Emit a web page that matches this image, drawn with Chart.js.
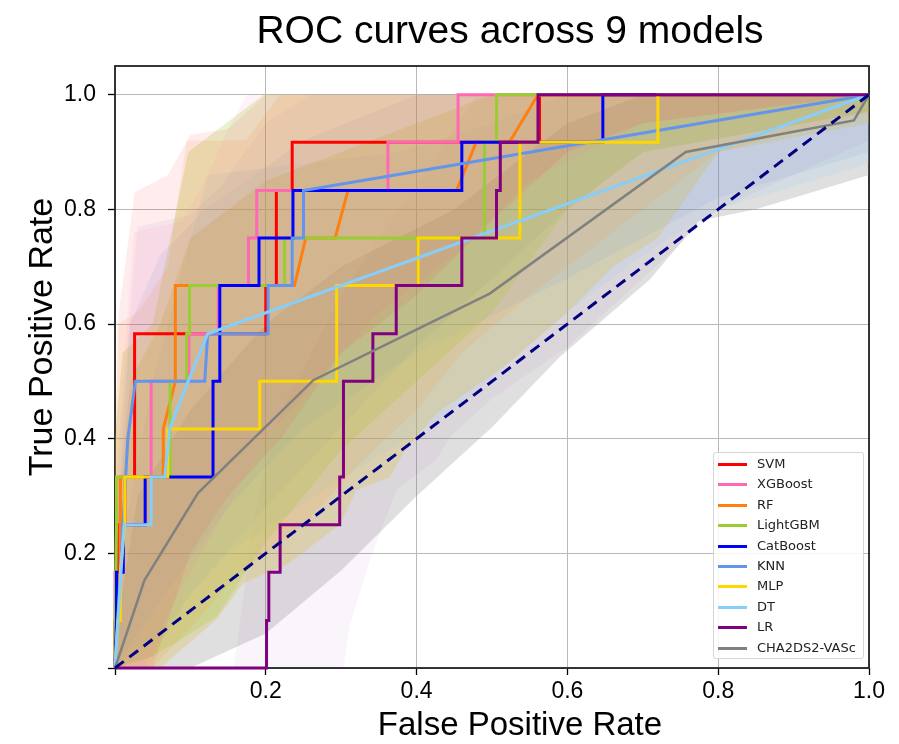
<!DOCTYPE html>
<html><head><meta charset="utf-8">
<script src="https://cdn.jsdelivr.net/npm/chart.js@4.4.0/dist/chart.umd.min.js"></script>
<style>
html,body{margin:0;padding:0;background:#fff;}
#wrap{position:relative;width:899px;height:744px;}
#legend{position:absolute;box-sizing:border-box;border:1px solid #d6d6d6;border-radius:3px;background:rgba(255,255,255,0.85);font-family:"DejaVu Sans",sans-serif;font-size:13px;color:#222;padding:0;}
#legend .row{position:absolute;left:0;height:20px;white-space:nowrap;}
#legend .sw{position:absolute;left:4px;top:9px;width:29px;height:3px;}
#legend .lb{position:absolute;left:43px;top:2px;line-height:16px;}
</style></head>
<body><div id="wrap"><canvas id="c" width="899" height="744"></canvas><div id="legend"></div></div>
<script>
const chartTitle = 'ROC curves across 9 models';
const xTitle = 'False Positive Rate';
const yTitle = 'True Positive Rate';
const xTickValues = [0, 0.2, 0.4, 0.6, 0.8, 1.0];
const xTickLabels = ['', '0.2', '0.4', '0.6', '0.8', '1.0'];
const yTickValues = [0, 0.2, 0.4, 0.6, 0.8, 1.0];
const yTickLabels = ['', '0.2', '0.4', '0.6', '0.8', '1.0'];

const models = ['SVM', 'XGBoost', 'RF', 'LightGBM', 'CatBoost', 'KNN', 'MLP', 'DT', 'LR', 'CHA2DS2-VASc'];
const lineColors = ['#ff0000', '#ff69b4', '#ff7f0e', '#9acd32', '#0000ff', '#6495ed', '#ffd700', '#87cefa', '#800080', '#808080'];
const bandColors = ['rgba(255,0,0,0.07)', 'rgba(255,105,180,0.08)', 'rgba(255,140,40,0.12)', 'rgba(154,205,50,0.24)', 'rgba(60,60,200,0.05)', 'rgba(100,149,237,0.1)', 'rgba(215,185,50,0.26)', 'rgba(135,206,250,0.14)', 'rgba(128,0,128,0.04)', 'rgba(128,128,128,0.25)'];

// ROC curves (FPR, TPR)
const svmFpr = [0, 0, 0.005, 0.005, 0.013, 0.013, 0.026, 0.026, 0.2, 0.2, 0.214, 0.214, 0.235, 0.235, 0.563, 0.563, 1];
const svmTpr = [0, 0.083, 0.083, 0.25, 0.25, 0.333, 0.333, 0.583, 0.583, 0.667, 0.667, 0.833, 0.833, 0.917, 0.917, 1, 1];
const xgbFpr = [0, 0, 0.007, 0.007, 0.048, 0.048, 0.098, 0.098, 0.137, 0.137, 0.177, 0.177, 0.188, 0.188, 0.362, 0.362, 0.455, 0.455, 1];
const xgbTpr = [0, 0.167, 0.167, 0.333, 0.333, 0.5, 0.5, 0.583, 0.583, 0.667, 0.667, 0.75, 0.75, 0.833, 0.833, 0.917, 0.917, 1, 1];
const rfFpr = [0, 0.004, 0.007, 0.007, 0.064, 0.064, 0.08, 0.08, 0.238, 0.253, 0.292, 0.309, 0.453, 0.479, 0.523, 0.561, 1];
const rfTpr = [0, 0.083, 0.167, 0.333, 0.333, 0.417, 0.5, 0.667, 0.667, 0.75, 0.75, 0.833, 0.833, 0.917, 0.917, 1, 1];
const lgbmFpr = [0, 0, 0.002, 0.002, 0.073, 0.073, 0.095, 0.095, 0.099, 0.099, 0.225, 0.225, 0.49, 0.49, 0.506, 0.506, 1];
const lgbmTpr = [0, 0.083, 0.25, 0.333, 0.333, 0.5, 0.5, 0.583, 0.583, 0.667, 0.667, 0.75, 0.75, 0.917, 0.917, 1, 1];
const cbFpr = [0, 0.002, 0.002, 0.011, 0.011, 0.04, 0.04, 0.13, 0.13, 0.139, 0.139, 0.191, 0.191, 0.236, 0.236, 0.46, 0.46, 0.647, 0.647, 1];
const cbTpr = [0, 0.083, 0.167, 0.167, 0.25, 0.25, 0.333, 0.333, 0.5, 0.5, 0.667, 0.667, 0.75, 0.75, 0.833, 0.833, 0.917, 0.917, 1, 1];
const knnFpr = [0, 0.017, 0.027, 0.119, 0.123, 0.203, 0.203, 0.235, 0.235, 0.25, 0.25, 1];
const knnTpr = [0, 0.4, 0.5, 0.5, 0.583, 0.583, 0.667, 0.667, 0.75, 0.75, 0.833, 1];
const mlpFpr = [0, 0.004, 0.007, 0.007, 0.013, 0.013, 0.07, 0.07, 0.192, 0.192, 0.294, 0.294, 0.402, 0.402, 0.537, 0.537, 0.72, 0.72, 1];
const mlpTpr = [0, 0.083, 0.083, 0.167, 0.25, 0.333, 0.333, 0.417, 0.417, 0.5, 0.5, 0.667, 0.667, 0.75, 0.75, 0.917, 0.917, 1, 1];
const dtFpr = [0, 0.012, 0.048, 0.048, 0.066, 0.0725, 0.097, 0.123, 1];
const dtTpr = [0, 0.25, 0.25, 0.333, 0.333, 0.417, 0.5, 0.583, 1];
const lrFpr = [0, 0.201, 0.201, 0.204, 0.204, 0.219, 0.219, 0.298, 0.298, 0.303, 0.303, 0.342, 0.342, 0.373, 0.373, 0.46, 0.46, 0.506, 0.506, 0.511, 0.511, 0.561, 0.561, 1];
const lrTpr = [0, 0, 0.083, 0.083, 0.167, 0.167, 0.25, 0.25, 0.333, 0.333, 0.5, 0.5, 0.583, 0.583, 0.667, 0.667, 0.75, 0.75, 0.833, 0.833, 0.917, 0.917, 1, 1];
const chaFpr = [0, 0.039, 0.11, 0.263, 0.497, 0.757, 0.98, 1];
const chaTpr = [0, 0.153, 0.305, 0.502, 0.653, 0.9, 0.955, 1];
const chanceFpr = [0, 1];
const chanceTpr = [0, 1];

// Confidence bands: upper and lower edges (FPR, TPR)
const svmUpX = [0, 0.005, 0.026, 0.07, 0.1, 0.15, 0.2, 1];
const svmUpY = [0.35, 0.62, 0.83, 0.86, 0.93, 0.94, 1, 1];
const svmLoX = [0, 0.05, 0.1, 0.15, 0.22, 0.3, 0.4, 0.5, 0.6, 0.7, 1];
const svmLoY = [0, 0, 0.2, 0.3, 0.4, 0.55, 0.65, 0.78, 0.9, 0.95, 1];
const xgbUpX = [0, 0.01, 0.025, 0.09, 0.13, 0.15, 0.175, 1];
const xgbUpY = [0.3, 0.5, 0.76, 0.78, 0.88, 0.94, 1, 1];
const xgbLoX = [0, 0.04, 0.08, 0.15, 0.2, 0.28, 0.35, 0.45, 0.55, 0.7, 1];
const xgbLoY = [0, 0, 0.12, 0.28, 0.4, 0.52, 0.62, 0.72, 0.85, 0.95, 1];
const rfUpX = [0, 0.003, 0.03, 0.07, 0.095, 0.174, 0.219, 1];
const rfUpY = [0.35, 0.6, 0.62, 0.7, 0.92, 0.92, 1, 1];
const rfLoX = [0, 0.05, 0.1, 0.16, 0.25, 0.32, 0.4, 0.46, 0.55, 0.65, 0.8, 1];
const rfLoY = [0, 0, 0.07, 0.16, 0.25, 0.35, 0.45, 0.55, 0.65, 0.75, 0.9, 0.97];
const lgbmUpX = [0, 0.01, 0.05, 0.097, 0.197, 1];
const lgbmUpY = [0.4, 0.55, 0.6, 0.9, 1, 1];
const lgbmLoX = [0, 0.05, 0.1, 0.135, 0.2, 0.3, 0.4, 0.5, 0.6, 0.7, 1];
const lgbmLoY = [0, 0.02, 0.06, 0.09, 0.22, 0.38, 0.5, 0.62, 0.8, 0.9, 0.97];
const cbUpX = [0, 0.03, 0.1, 0.14, 0.2, 0.26, 1];
const cbUpY = [0.3, 0.77, 0.79, 0.84, 0.95, 1, 1];
const cbLoX = [0, 0.05, 0.1, 0.2, 0.3, 0.4, 0.5, 0.6, 0.7, 1];
const cbLoY = [0, 0.02, 0.13, 0.28, 0.42, 0.56, 0.68, 0.8, 0.9, 0.97];
const knnUpX = [0, 0.02, 0.06, 0.12, 0.25, 0.4, 1];
const knnUpY = [0.2, 0.6, 0.72, 0.8, 0.92, 1, 1];
const knnLoX = [0, 0.05, 0.15, 0.25, 0.4, 0.6, 0.8, 1];
const knnLoY = [0, 0.1, 0.28, 0.42, 0.55, 0.68, 0.82, 0.9];
const mlpUpX = [0, 0.02, 0.06, 0.1, 0.2, 0.3, 0.4, 0.5, 1];
const mlpUpY = [0.2, 0.5, 0.6, 0.75, 0.85, 0.9, 0.95, 1, 1];
const mlpLoX = [0, 0.06, 0.135, 0.17, 0.228, 0.298, 0.32, 0.365, 0.382, 0.426, 0.52, 0.6, 0.66, 0.72, 0.8, 1];
const mlpLoY = [0, 0, 0.085, 0.148, 0.18, 0.25, 0.31, 0.333, 0.374, 0.444, 0.53, 0.62, 0.7, 0.75, 0.9, 0.95];
const dtUpX = [0, 0.05, 0.123, 0.25, 0.378, 0.5, 0.6, 1];
const dtUpY = [0.15, 0.5, 0.86, 0.88, 0.9, 0.95, 1, 1];
const dtLoX = [0, 0.05, 0.15, 0.3, 0.45, 0.6, 0.7, 0.8, 1];
const dtLoY = [0, 0.05, 0.2, 0.33, 0.45, 0.62, 0.72, 0.8, 0.88];
const lrUpX = [0, 0.157, 0.17, 0.175, 0.19, 0.22, 0.26, 0.3, 0.35, 0.42, 0.48, 1];
const lrUpY = [0, 0, 0.12, 0.19, 0.3, 0.45, 0.55, 0.65, 0.75, 0.88, 1, 1];
const lrLoX = [0, 0.303, 0.311, 0.338, 0.373, 0.426, 0.444, 0.5, 0.6, 0.7, 0.8, 1];
const lrLoY = [0, 0, 0.072, 0.188, 0.31, 0.363, 0.403, 0.47, 0.56, 0.68, 0.8, 0.92];
const chaUpX = [0, 0.03, 0.1, 0.2, 0.3, 0.45, 0.6, 0.7, 1];
const chaUpY = [0.05, 0.3, 0.45, 0.6, 0.7, 0.8, 0.95, 1, 1];
const chaLoX = [0, 0.1, 0.2, 0.3, 0.4, 0.5, 0.59, 0.709, 0.775, 0.85, 1];
const chaLoY = [0, 0, 0.06, 0.17, 0.3, 0.42, 0.543, 0.677, 0.78, 0.8, 0.86];

const curves = [
  [svmFpr, svmTpr], [xgbFpr, xgbTpr], [rfFpr, rfTpr], [lgbmFpr, lgbmTpr], [cbFpr, cbTpr],
  [knnFpr, knnTpr], [mlpFpr, mlpTpr], [dtFpr, dtTpr], [lrFpr, lrTpr], [chaFpr, chaTpr]
];
const bands = [
  [svmUpX, svmUpY, svmLoX, svmLoY], [xgbUpX, xgbUpY, xgbLoX, xgbLoY], [rfUpX, rfUpY, rfLoX, rfLoY],
  [lgbmUpX, lgbmUpY, lgbmLoX, lgbmLoY], [cbUpX, cbUpY, cbLoX, cbLoY], [knnUpX, knnUpY, knnLoX, knnLoY],
  [mlpUpX, mlpUpY, mlpLoX, mlpLoY], [dtUpX, dtUpY, dtLoX, dtLoY], [lrUpX, lrUpY, lrLoX, lrLoY],
  [chaUpX, chaUpY, chaLoX, chaLoY]
];

const pts = (xs, ys) => xs.map((x, i) => ({x: x, y: ys[i]}));
const datasets = [];
bands.forEach((b, i) => {
  const poly = pts(b[0], b[1]).concat(pts(b[2], b[3]).reverse());
  datasets.push({label: models[i] + ' band', data: poly, showLine: true, fill: 'shape',
    backgroundColor: bandColors[i], borderWidth: 0, pointRadius: 0, pointHoverRadius: 0, order: 100 + i, tension: 0});
});
curves.forEach((c, i) => {
  datasets.push({label: models[i], data: pts(c[0], c[1]), showLine: true, fill: false,
    borderColor: lineColors[i], backgroundColor: lineColors[i], borderWidth: i === 9 ? 2.5 : 3,
    pointRadius: 0, pointHoverRadius: 0, order: 50 - i, tension: 0, clip: 4});
});
datasets.push({label: 'Chance', data: pts(chanceFpr, chanceTpr), showLine: true, fill: false,
  borderColor: '#000080', borderWidth: 3, borderDash: [11, 7], pointRadius: 0, order: 30, clip: 4});

const framePlugin = {
  id: 'frame',
  beforeDatasetsDraw(chart) {
    const {ctx, chartArea: a} = chart;
    ctx.save();
    ctx.strokeStyle = '#222';
    ctx.lineWidth = 1.8;
    ctx.strokeRect(a.left, a.top, a.right - a.left, a.bottom - a.top);
    ctx.restore();
  },
  afterDraw(chart) {
    const {ctx, chartArea: a} = chart;
    ctx.save();
    ctx.fillStyle = '#000';
    ctx.textAlign = 'center';
    ctx.textBaseline = 'alphabetic';
    ctx.font = '39px "Liberation Sans", Arial, sans-serif';
    ctx.fillText(chartTitle, 510, 43);
    ctx.font = '33px "Liberation Sans", Arial, sans-serif';
    ctx.fillText(xTitle, 520, 735);
    ctx.translate(52, 337);
    ctx.rotate(-Math.PI / 2);
    ctx.font = '34px "Liberation Sans", Arial, sans-serif';
    ctx.fillText(yTitle, 0, 0);
    ctx.restore();
    const lg = document.getElementById('legend');
    lg.style.left = (a.right - 156) + 'px';
    lg.style.top = (a.bottom - 216) + 'px';
    lg.style.width = '151px';
    lg.style.height = '207px';
  }
};

const tickFont = {family: '"Liberation Sans", Arial, sans-serif', size: 23};
new Chart(document.getElementById('c'), {
  type: 'scatter',
  data: {datasets: datasets},
  options: {
    responsive: false, animation: false, devicePixelRatio: 1,
    layout: {padding: {top: 66, right: 30, bottom: 0, left: 0}},
    plugins: {legend: {display: false}, tooltip: {enabled: false}, title: {display: false}},
    events: [],
    scales: {
      x: {type: 'linear', min: 0, max: 1,
        afterFit(s) { s.height = 76; },
        afterBuildTicks(s) { s.ticks = xTickValues.map(v => ({value: v})); },
        ticks: {callback: (v) => xTickLabels[xTickValues.indexOf(v)], font: tickFont, color: '#000', padding: 3, maxRotation: 0, autoSkip: false},
        grid: {color: '#b8b8b8', lineWidth: 1, tickLength: 7, tickColor: '#000', tickWidth: 1.3},
        border: {display: false}},
      y: {type: 'linear', min: 0, max: 1.05,
        afterFit(s) { s.width = 115; },
        afterBuildTicks(s) { s.ticks = yTickValues.map(v => ({value: v})); },
        ticks: {callback: (v) => yTickLabels[yTickValues.indexOf(v)], font: tickFont, color: '#000', padding: 12, autoSkip: false},
        grid: {color: '#b8b8b8', lineWidth: 1, tickLength: 7, tickColor: '#000', tickWidth: 1.3},
        border: {display: false}}
    }
  },
  plugins: [framePlugin]
});

const lg = document.getElementById('legend');
models.forEach((m, i) => {
  const row = document.createElement('div');
  row.className = 'row';
  row.style.top = (1 + i * 20.4) + 'px';
  const sw = document.createElement('div');
  sw.className = 'sw';
  sw.style.background = lineColors[i];
  const lb = document.createElement('div');
  lb.className = 'lb';
  lb.textContent = m;
  row.appendChild(sw); row.appendChild(lb);
  lg.appendChild(row);
});
</script>
</body></html>
